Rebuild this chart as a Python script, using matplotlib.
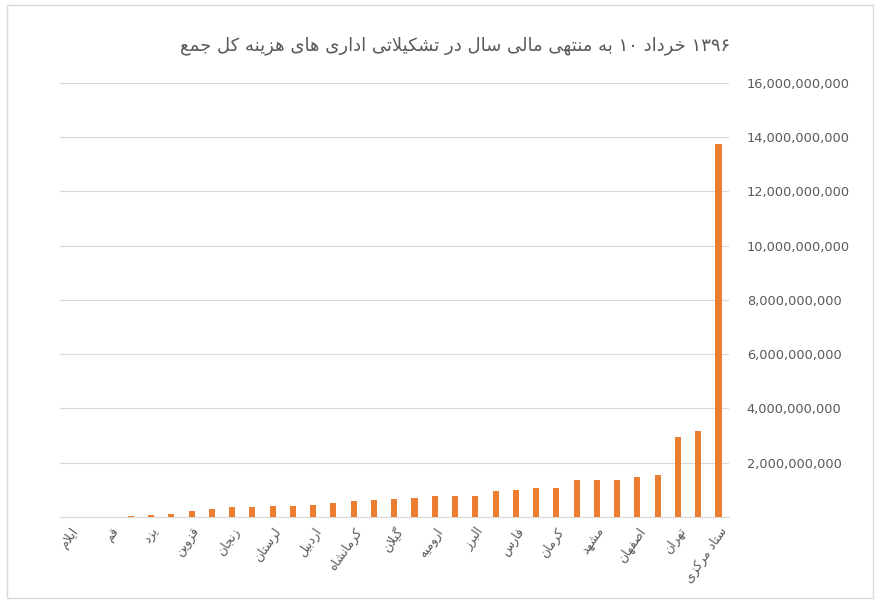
import numpy as np
import matplotlib
matplotlib.use("Agg")
import matplotlib.pyplot as plt
from matplotlib.patches import Rectangle
from matplotlib.ticker import FuncFormatter

# values in billions (rial), one per category, left to right
values = [0, 0, 0, 0.05, 0.07, 0.12, 0.21, 0.31, 0.37, 0.38, 0.39, 0.40,
          0.46, 0.52, 0.58, 0.61, 0.68, 0.69, 0.76, 0.76, 0.78, 0.96, 0.98,
          1.06, 1.08, 1.36, 1.37, 1.36, 1.48, 1.56, 2.95, 3.18, 13.75]
# every other category carries a label (as in the original)
labels = ["ایلام", "قم", "یزد", "قزوین", "زنجان", "لرستان", "اردبیل",
          "کرمانشاه", "گیلان", "ارومیه", "البرز", "فارس", "کرمان", "مشهد",
          "اصفهان", "تهران", "ستاد مرکزی"]
title = "جمع کل هزینه های اداری تشکیلاتی در سال مالی منتهی به ۱۰ خرداد ۱۳۹۶"
y_ticks = [0, 2, 4, 6, 8, 10, 12, 14, 16]

# Arabic presentation forms: isolated, final, initial, medial
FORMS = {
    "ا": (0xFE8D, 0xFE8E, None, None), "آ": (0xFE81, 0xFE82, None, None),
    "ب": (0xFE8F, 0xFE90, 0xFE91, 0xFE92), "پ": (0xFB56, 0xFB57, 0xFB58, 0xFB59),
    "ت": (0xFE95, 0xFE96, 0xFE97, 0xFE98), "ث": (0xFE99, 0xFE9A, 0xFE9B, 0xFE9C),
    "ج": (0xFE9D, 0xFE9E, 0xFE9F, 0xFEA0), "چ": (0xFB7A, 0xFB7B, 0xFB7C, 0xFB7D),
    "ح": (0xFEA1, 0xFEA2, 0xFEA3, 0xFEA4), "خ": (0xFEA5, 0xFEA6, 0xFEA7, 0xFEA8),
    "د": (0xFEA9, 0xFEAA, None, None), "ذ": (0xFEAB, 0xFEAC, None, None),
    "ر": (0xFEAD, 0xFEAE, None, None), "ز": (0xFEAF, 0xFEB0, None, None),
    "ژ": (0xFB8A, 0xFB8B, None, None),
    "س": (0xFEB1, 0xFEB2, 0xFEB3, 0xFEB4), "ش": (0xFEB5, 0xFEB6, 0xFEB7, 0xFEB8),
    "ص": (0xFEB9, 0xFEBA, 0xFEBB, 0xFEBC), "ض": (0xFEBD, 0xFEBE, 0xFEBF, 0xFEC0),
    "ط": (0xFEC1, 0xFEC2, 0xFEC3, 0xFEC4), "ظ": (0xFEC5, 0xFEC6, 0xFEC7, 0xFEC8),
    "ع": (0xFEC9, 0xFECA, 0xFECB, 0xFECC), "غ": (0xFECD, 0xFECE, 0xFECF, 0xFED0),
    "ف": (0xFED1, 0xFED2, 0xFED3, 0xFED4), "ق": (0xFED5, 0xFED6, 0xFED7, 0xFED8),
    "ک": (0xFB8E, 0xFB8F, 0xFB90, 0xFB91), "گ": (0xFB92, 0xFB93, 0xFB94, 0xFB95),
    "ل": (0xFEDD, 0xFEDE, 0xFEDF, 0xFEE0), "م": (0xFEE1, 0xFEE2, 0xFEE3, 0xFEE4),
    "ن": (0xFEE5, 0xFEE6, 0xFEE7, 0xFEE8), "و": (0xFEED, 0xFEEE, None, None),
    "ه": (0xFEE9, 0xFEEA, 0xFEEB, 0xFEEC), "ی": (0xFBFC, 0xFBFD, 0xFBFE, 0xFBFF),
}


def dual(ch):
    return ch in FORMS and FORMS[ch][2] is not None


def shape_word(word):
    """Contextual forms for one word, returned in visual (right-to-left) order."""
    out = []
    i = 0
    n = len(word)
    while i < n:
        ch = word[i]
        if ch not in FORMS:
            out.append(ch)
            i += 1
            continue
        joins_prev = i > 0 and dual(word[i - 1])
        if ch == "ل" and i + 1 < n and word[i + 1] in ("ا", "آ"):
            lig = (0xFEFB, 0xFEFC) if word[i + 1] == "ا" else (0xFEF5, 0xFEF6)
            out.append(chr(lig[1] if joins_prev else lig[0]))
            i += 2
            continue
        joins_next = dual(ch) and i + 1 < n and word[i + 1] in FORMS
        iso, fin, ini, med = FORMS[ch]
        if joins_prev and joins_next:
            code = med
        elif joins_next:
            code = ini
        elif joins_prev:
            code = fin
        else:
            code = iso
        out.append(chr(code))
        i += 1
    if word and all(c in "۰۱۲۳۴۵۶۷۸۹" for c in word):
        return word
    return "".join(reversed(out))


def shape_ltr(text):
    # words kept in the order the original chart shows them
    return " ".join(shape_word(w) for w in text.split(" "))


def shape_rtl(text):
    return " ".join(shape_word(w) for w in reversed(text.split(" ")))


plt.rcParams['font.family'] = ['DejaVu Sans']
grey = "#595959"

fig = plt.figure(figsize=(8.8, 6.03), dpi=100)
ax = fig.add_axes([0.068, 0.1426, 0.76, 0.7204])

x = np.arange(len(values))
ax.bar(x, np.array(values) * 1e9, width=0.3, color="#ED7D31", zorder=3)

ax.set_xlim(-0.5, len(values) - 0.5)
ax.set_ylim(0, 16e9)
ax.yaxis.tick_right()
ax.set_yticks([t * 1e9 for t in y_ticks])
ax.yaxis.set_major_formatter(FuncFormatter(lambda v, p: "" if v == 0 else f"{v:,.0f}"))
ax.tick_params(axis="y", length=0, pad=13, labelsize=9.3, labelcolor=grey)
ax.grid(axis="y", color="#d9d9d9", linewidth=0.8, zorder=0)

ax.set_xticks(x[::2])
ax.set_xticklabels([shape_rtl(s) for s in labels], rotation=55, ha="right",
                   va="top", rotation_mode="anchor", fontsize=9, color=grey)
ax.tick_params(axis="x", length=0, pad=6)

for side in ["top", "right", "left"]:
    ax.spines[side].set_visible(False)
ax.spines["bottom"].set_color("#d9d9d9")

fig.text(0.517, 0.925, shape_ltr(title), ha="center", va="center",
         fontsize=13, color=grey)

fig.patches.append(Rectangle((0.008, 0.008), 0.984, 0.984, transform=fig.transFigure,
                             fill=False, edgecolor="#d9d9d9", linewidth=1))

fig.savefig("out.png", dpi=100)
